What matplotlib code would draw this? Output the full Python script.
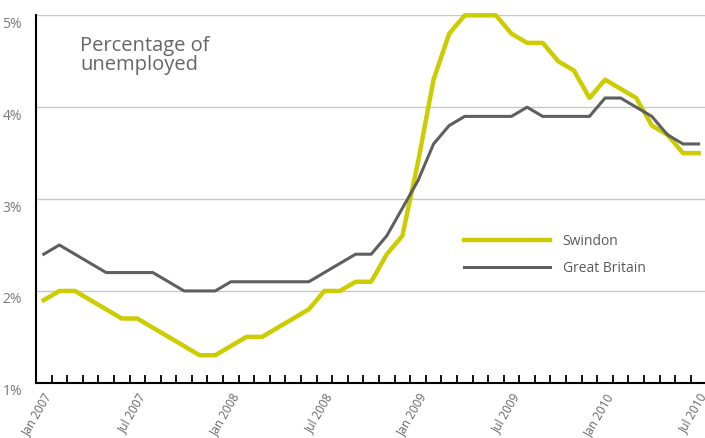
import matplotlib
matplotlib.use("Agg")
import matplotlib.pyplot as plt
from matplotlib.transforms import ScaledTranslation

# monthly values, Jan 2007 .. Jul 2010
swindon = [1.9, 2.0, 2.0, 1.9, 1.8, 1.7, 1.7, 1.6, 1.5, 1.4,
           1.3, 1.3, 1.4, 1.5, 1.5, 1.6, 1.7, 1.8, 2.0, 2.0,
           2.1, 2.1, 2.4, 2.6, 3.4, 4.3, 4.8, 5.0, 5.0, 5.0,
           4.8, 4.7, 4.7, 4.5, 4.4, 4.1, 4.3, 4.2, 4.1, 3.8,
           3.7, 3.5, 3.5]
great_britain = [2.4, 2.5, 2.4, 2.3, 2.2, 2.2, 2.2, 2.2, 2.1, 2.0,
                 2.0, 2.0, 2.1, 2.1, 2.1, 2.1, 2.1, 2.1, 2.2, 2.3,
                 2.4, 2.4, 2.6, 2.9, 3.2, 3.6, 3.8, 3.9, 3.9, 3.9,
                 3.9, 4.0, 3.9, 3.9, 3.9, 3.9, 4.1, 4.1, 4.0, 3.9,
                 3.7, 3.6, 3.6]
tick_labels = ["Jan 2007", "Jul 2007", "Jan 2008", "Jul 2008",
               "Jan 2009", "Jul 2009", "Jan 2010", "Jul 2010"]
y_ticks = [1, 2, 3, 4, 5]

plt.rcParams['font.family'] = ['Open Sans', 'DejaVu Sans']

fig = plt.figure(figsize=(7.05, 4.38), dpi=100)
ax = fig.add_axes([0.051, 0.126, 0.951, 0.839])

x = list(range(len(swindon)))
ax.plot(x, swindon, color='#cccc00', lw=3.2, label='Swindon', clip_on=False, zorder=3)
ax.plot(x, great_britain, color='#5f5f5f', lw=2.2, label='Great Britain', clip_on=False, zorder=4)

ax.set_xlim(-0.5, len(x) - 0.5)
ax.set_ylim(1, 5)

# gridlines
for v in y_ticks[1:]:
    ax.axhline(v, color='#c8c8c8', lw=1, zorder=1)

ax.set_yticks(y_ticks)
ax.set_yticklabels([f"{v}%" for v in y_ticks], color='#7a7a7a', fontsize=10)
ax.tick_params(axis='y', length=0, pad=10)
for lbl in ax.get_yticklabels():
    lbl.set_transform(lbl.get_transform() + ScaledTranslation(0, -5 / 72, fig.dpi_scale_trans))

# category labels every six months, tick marks at category boundaries
ax.set_xticks(range(0, len(x), 6))
ax.set_xticklabels(tick_labels, rotation=60, ha='right', va='top',
                   rotation_mode='anchor', color='#666666', fontsize=8.5)
ax.tick_params(axis='x', which='major', length=0, pad=6)
ax.set_xticks([i - 0.5 for i in range(1, len(x) + 1)], minor=True)
ax.tick_params(axis='x', which='minor', direction='in', length=6, width=1.3, color='black')

for s in ['top', 'right']:
    ax.spines[s].set_visible(False)
ax.spines['left'].set_linewidth(1.5)
ax.spines['bottom'].set_linewidth(1.5)

ax.text(0.066, 0.945, "Percentage of\nunemployed", transform=ax.transAxes,
        fontsize=14.5, color='#666666', va='top', linespacing=0.95)

leg = ax.legend(loc='upper left', bbox_to_anchor=(0.62, 0.44), frameon=False,
                handlelength=6.2, handletextpad=0.9, labelspacing=0.9,
                fontsize=10)
for t in leg.get_texts():
    t.set_color('#595959')

fig.savefig("out.png", dpi=100)
